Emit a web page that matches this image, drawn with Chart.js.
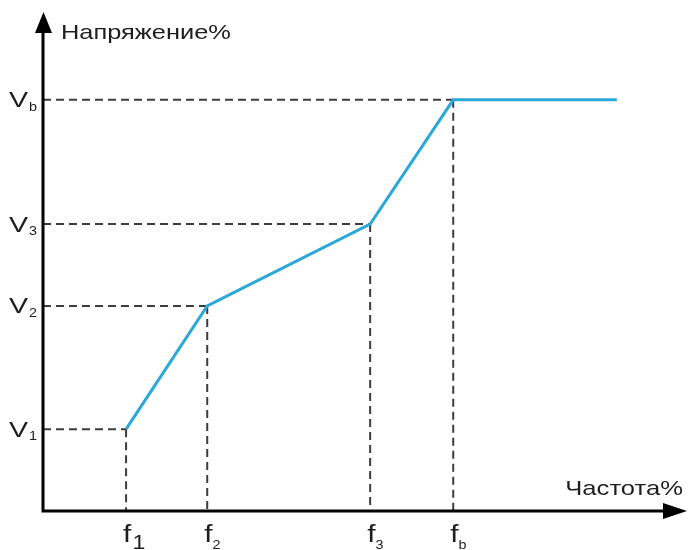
<!DOCTYPE html>
<html>
<head>
<meta charset="utf-8">
<script src="https://cdn.jsdelivr.net/npm/chart.js@4/dist/chart.umd.min.js"></script>
<style>
  body { margin: 0; background: #fff; }
  canvas { display: block; }
</style>
</head>
<body>
<canvas id="myChart" width="688" height="550"></canvas>
<script>
// V/f curve: break points f1..fb and voltages V1..Vb (percent of axis)
var freq = [12.9, 25.5, 50.8, 63.7, 89.1];
var volt = [16.4, 41.1, 57.5, 82.4, 82.4];
var freqSubs = ['1', '2', '3', 'b'];
var voltSubs = ['1', '2', '3', 'b'];
var yTitle = 'Напряжение%';
var xTitle = 'Частота%';

var FONT = '"Liberation Sans", Arial, sans-serif';

// text is a bit wider than the font, so stretch it horizontally
function wideText(ctx, text, x, y, size, sx, align) {
    ctx.font = size + 'px ' + FONT;
    var w = ctx.measureText(text).width * sx;
    var x0 = align === 'right' ? x - w : x;
    ctx.save();
    ctx.translate(x0, y);
    ctx.scale(sx, 1);
    ctx.textAlign = 'left';
    ctx.textBaseline = 'alphabetic';
    ctx.fillText(text, 0, 0);
    ctx.restore();
    return w;
}

var guides = {
    id: 'guides',
    beforeDatasetsDraw: function (chart) {
        var ctx = chart.ctx;
        var xs = chart.scales.x, ys = chart.scales.y;
        var area = chart.chartArea;
        ctx.save();
        ctx.strokeStyle = '#3d3d3d';
        ctx.lineWidth = 2;
        ctx.setLineDash([8, 5]);
        for (var i = 0; i < freqSubs.length; i++) {
            var px = xs.getPixelForValue(freq[i]);
            var py = ys.getPixelForValue(volt[i]);
            ctx.beginPath();
            ctx.moveTo(area.left, py);
            ctx.lineTo(px, py);
            ctx.moveTo(px, py);
            ctx.lineTo(px, area.bottom);
            ctx.stroke();
        }
        ctx.restore();
    },
    afterDraw: function (chart) {
        var ctx = chart.ctx;
        var xs = chart.scales.x, ys = chart.scales.y;
        var area = chart.chartArea;
        ctx.save();

        // axes with arrow heads
        ctx.strokeStyle = '#000';
        ctx.fillStyle = '#000';
        ctx.lineWidth = 3;
        ctx.beginPath();
        ctx.moveTo(area.left, area.bottom + 1.5);
        ctx.lineTo(area.left, area.top + 18);
        ctx.moveTo(area.left - 1.5, area.bottom);
        ctx.lineTo(area.right - 22, area.bottom);
        ctx.stroke();

        ctx.beginPath();
        ctx.moveTo(area.left + 0.5, area.top);
        ctx.lineTo(area.left + 9, area.top + 21);
        ctx.lineTo(area.left - 8, area.top + 21);
        ctx.closePath();
        ctx.fill();

        ctx.beginPath();
        ctx.moveTo(area.right, area.bottom);
        ctx.lineTo(area.right - 24, area.bottom - 8);
        ctx.lineTo(area.right - 24, area.bottom + 8);
        ctx.closePath();
        ctx.fill();

        // axis titles
        ctx.fillStyle = '#1e1e1e';
        wideText(ctx, yTitle, 61, 39, 21, 1.21, 'left');
        wideText(ctx, xTitle, 683, 495, 21, 1.22, 'right');

        // V labels on the left
        for (var i = 0; i < voltSubs.length; i++) {
            var py = ys.getPixelForValue(volt[i]);
            var w = wideText(ctx, 'V', 9, py + 7.5, 22, 1.3, 'left');
            wideText(ctx, voltSubs[i], 9 + w + 1, py + 11, 12, 1.2, 'left');
        }

        // f labels under the axis
        for (var j = 0; j < freqSubs.length; j++) {
            var px = xs.getPixelForValue(freq[j]);
            var fx = px - 3;
            var fw = wideText(ctx, 'f', fx, 542, 23, 1.3, 'left');
            if (freqSubs[j] === '1') {
                wideText(ctx, '1', fx + fw + 1, 549, 21, 1.1, 'left');
            } else {
                wideText(ctx, freqSubs[j], fx + fw, 549, 12, 1.2, 'left');
            }
        }
        ctx.restore();
    }
};

function viewChart() {
    var ctx = document.getElementById('myChart').getContext('2d');

    var points = freq.map(function (f, i) {
        return { x: f, y: volt[i] };
    });

    var myChart = new Chart(ctx, {
        type: 'line',
        data: {
            datasets: [{
                data: points,
                borderColor: '#2aa8d8',
                borderWidth: 3,
                pointRadius: 0,
                tension: 0,
                fill: false
            }]
        },
        options: {
            responsive: false,
            animation: false,
            layout: { padding: { left: 43, right: 1, top: 12, bottom: 39 } },
            plugins: {
                legend: { display: false },
                tooltip: { enabled: false }
            },
            scales: {
                x: { type: 'linear', min: 0, max: 100, display: false },
                y: { type: 'linear', min: 0, max: 100, display: false }
            }
        },
        plugins: [guides]
    });
}
viewChart();
</script>
</body>
</html>
